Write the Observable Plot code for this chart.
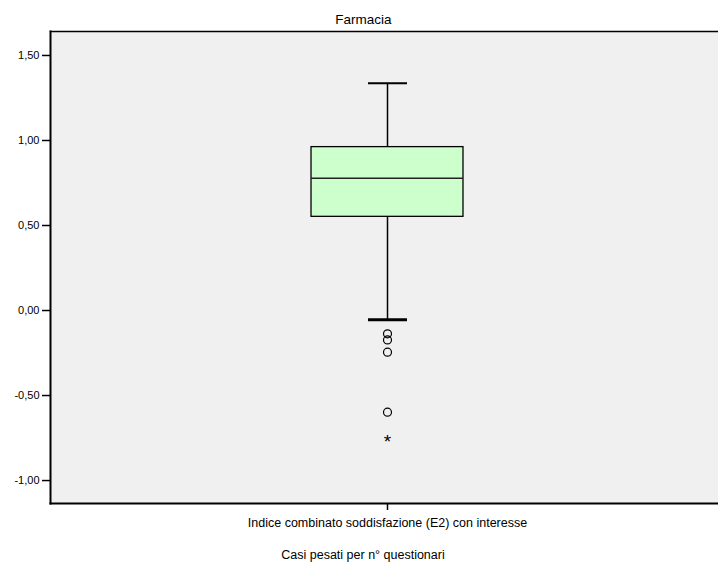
<!DOCTYPE html>
<html>
<head>
<meta charset="utf-8">
<script src="https://cdn.jsdelivr.net/npm/d3@7"></script>
<script src="https://cdn.jsdelivr.net/npm/@observablehq/plot@0.6"></script>
<style>
  body { margin: 0; background: white; font-family: "Liberation Sans", Arial, sans-serif; }
  #wrap { position: relative; width: 718px; height: 565px; overflow: hidden; }
  #title { position: absolute; left: 9px; top: 12px; width: 709px; text-align: center; font-size: 13.5px; color: #000; line-height: 15px; }
  #chart { position: absolute; left: 0; top: 28px; }
  #caption { position: absolute; left: 0; top: 548px; width: 726px; text-align: center; font-size: 12.5px; color: #000; line-height: 14px; }
</style>
</head>
<body>
<div id="wrap">
  <div id="title">Farmacia</div>
  <div id="chart"></div>
  <div id="caption">Casi pesati per n° questionari</div>
</div>
<script>
// ---- data ----
const category = ["Indice combinato soddisfazione (E2) con interesse"];
const q1 = [0.551];
const median = [0.778];
const q3 = [0.961];
const whiskerLow = [-0.055];
const whiskerHigh = [1.337];
const outliers = [-0.137, -0.173, -0.245, -0.598];
const extremes = [-0.745];
const yTicks = [-1.0, -0.5, 0.0, 0.5, 1.0, 1.5];
const yTickLabels = ["-1,00", "-0,50", "0,00", "0,50", "1,00", "1,50"];

const stats = category.map((c, i) => ({
  cat: c, q1: q1[i], median: median[i], q3: q3[i], lo: whiskerLow[i], hi: whiskerHigh[i]
}));
const outlierData = outliers.map(v => ({cat: category[0], v}));
const extremeData = extremes.map(v => ({cat: category[0], v}));
const labelFor = new Map(yTicks.map((t, i) => [t, yTickLabels[i]]));

const yDomain = [-1.135, 1.641];

const chart = Plot.plot({
  width: 718,
  height: 512,
  marginTop: 3,
  marginBottom: 37,
  marginLeft: 50,
  marginRight: 0,
  style: { fontFamily: "'Liberation Sans', Arial, sans-serif", fontSize: "11px", color: "#000", background: "transparent" },
  x: { domain: category, range: [50, 724], padding: 0.632, round: false },
  y: { domain: yDomain },
  marks: [
    Plot.frame({ fill: "#f0f0f0", stroke: null }),
    // whiskers
    Plot.ruleX(stats, { x: "cat", y1: "q3", y2: "hi", stroke: "black", strokeWidth: 1.5 }),
    Plot.ruleX(stats, { x: "cat", y1: "q1", y2: "lo", stroke: "black", strokeWidth: 1.5 }),
    Plot.tickY(stats, { x: "cat", y: "hi", stroke: "black", strokeWidth: 2, insetLeft: 57, insetRight: 56 }),
    Plot.tickY(stats, { x: "cat", y: "lo", stroke: "black", strokeWidth: 3, insetLeft: 57, insetRight: 56 }),
    // box
    Plot.barY(stats, { x: "cat", y1: "q1", y2: "q3", fill: "#ccffcc", stroke: "black", strokeWidth: 1.3 }),
    Plot.tickY(stats, { x: "cat", y: "median", stroke: "#222", strokeWidth: 1.5 }),
    // outliers
    Plot.dot(outlierData, { x: "cat", y: "v", r: 4, stroke: "black", strokeWidth: 1.2, fill: "none" }),
    Plot.text(extremeData, { x: "cat", y: "v", text: () => "*", fontSize: 19, fill: "black", dy: 5 }),
    // axes
    Plot.axisY({ ticks: yTicks, tickFormat: d => labelFor.get(d), tickSize: 8, tickPadding: 3, stroke: "black", strokeWidth: 1.5, fontSize: 11 }),
    Plot.axisX({ tickSize: 7, tickPadding: 8, stroke: "black", strokeWidth: 1.5, fontSize: 12.5, label: null }),
    Plot.frame({ anchor: "left", stroke: "black", strokeWidth: 2 }),
    Plot.frame({ anchor: "bottom", stroke: "black", strokeWidth: 2 }),
    Plot.frame({ anchor: "top", stroke: "black", strokeWidth: 1.5 })
  ]
});
document.getElementById("chart").appendChild(chart);
</script>
</body>
</html>
